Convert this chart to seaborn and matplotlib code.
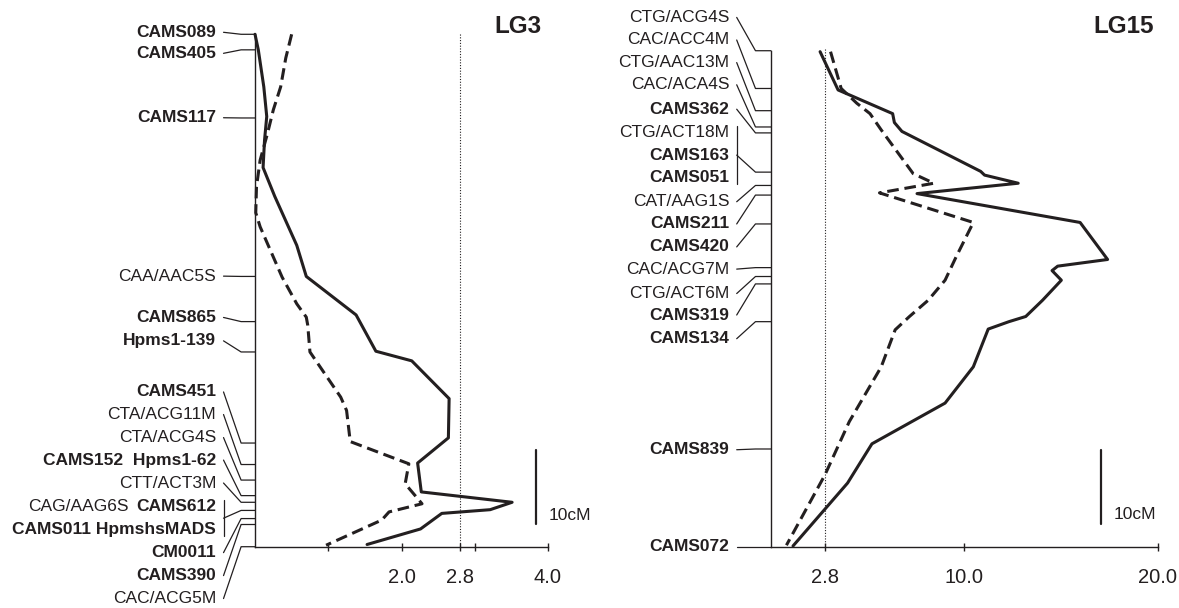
import numpy as np
import pandas as pd
import seaborn as sns
import matplotlib
matplotlib.use("Agg")
from matplotlib import pyplot as plt

# ---- LG3 ----
lg3_names = ["CAMS089", "CAMS405", "CAMS117", "CAA/AAC5S", "CAMS865", "Hpms1-139",
             "CAMS451", "CTA/ACG11M", "CTA/ACG4S", "CAMS152  Hpms1-62", "CTT/ACT3M",
             "CAG/AAG6S CAMS612", "CAMS011 HpmshsMADS", "CM0011", "CAMS390", "CAC/ACG5M"]
lg3_pos = [0.0, 2.1, 11.3, 32.7, 38.8, 42.9, 55.2, 58.1, 60.2, 62.3, 63.2,
           64.3, 64.3, 65.4, 66.2, 69.2]
lg3_solid_lod = [0, 0.045, 0.12, 0.16, 0.13, 0.11, 0.27, 0.57, 0.70, 1.38, 1.65, 2.14,
                 2.65, 2.64, 2.22, 2.27, 3.51, 3.21, 2.55, 2.26, 1.53]
lg3_solid_cm = [0, 2.1, 7.1, 11.1, 14.3, 18.0, 21.9, 28.5, 32.7, 37.9, 42.8, 44.1,
                49.2, 54.5, 57.9, 61.8, 63.2, 64.2, 64.7, 66.8, 68.9]
lg3_dash_lod = [0.50, 0.42, 0.35, 0.25, 0.17, 0.07, 0.02, 0.01, 0.07, 0.37, 0.57, 0.70,
                0.72, 0.75, 1.17, 1.25, 1.30, 2.10, 2.05, 2.28, 1.83, 1.73, 0.97]
lg3_dash_cm = [0, 3.2, 7.1, 10.2, 13.4, 17.0, 20.6, 24.1, 26.0, 32.8, 36.4, 38.2,
               39.3, 42.9, 49.0, 50.8, 55.0, 58.0, 60.7, 63.4, 64.5, 65.6, 69.0]
lg3_ticks = [1, 2, 2.8, 3, 4]
lg3_ticklabels = ["", "2.0", "2.8", "", "4.0"]

# ---- LG15 ----
lg15_names = ["CTG/ACG4S", "CAC/ACC4M", "CTG/AAC13M", "CAC/ACA4S", "CAMS362",
              "CTG/ACT18M", "CAMS163", "CAMS051", "CAT/AAG1S", "CAMS211", "CAMS420",
              "CAC/ACG7M", "CTG/ACT6M", "CAMS319", "CAMS134", "CAMS839", "CAMS072"]
lg15_pos = [0.0, 5.1, 8.1, 10.3, 11.1, 16.4, 16.4, 16.4, 18.2, 19.5, 23.4,
            29.3, 30.5, 31.5, 36.6, 53.8, 67.0]
lg15_solid_lod = [2.54, 3.47, 6.29, 6.38, 6.77, 10.84, 11.04, 12.78, 7.55, 15.98, 17.40,
                  14.82, 14.53, 15.01, 14.04, 13.17, 12.3, 11.23, 10.46, 9.0, 5.22, 3.96, 1.14]
lg15_solid_cm = [0.13, 5.3, 8.5, 9.7, 10.9, 16.3, 16.8, 17.9, 19.3, 23.2, 28.2,
                 29.1, 29.7, 31.0, 33.7, 35.9, 36.6, 37.6, 42.7, 47.6, 53.1, 58.4, 66.9]
lg15_dash_lod = [3.08, 3.63, 4.44, 5.12, 5.70, 7.35, 8.42, 5.61, 10.46, 9.58, 9.0,
                 8.13, 7.16, 6.42, 5.70, 4.05, 2.79, 0.80]
lg15_dash_cm = [0.13, 5.1, 7.1, 8.5, 10.7, 16.6, 17.9, 19.2, 23.2, 27.8, 31.0,
                33.7, 35.9, 37.7, 42.7, 50.1, 57.3, 66.8]
lg15_ticks = [2.8, 10, 20]
lg15_ticklabels = ["2.8", "10.0", "20.0"]

threshold = 2.8

sns.set_style("white")
plt.rcParams["font.family"] = ["Liberation Sans", "DejaVu Sans"]
INK = "#231f20"
FS = 12.5

fig = plt.figure(figsize=(11.79, 6.08), dpi=100)
ax1 = fig.add_axes([0.2163, 0.1008, 0.2485, 0.8428])
ax2 = fig.add_axes([0.6539, 0.1008, 0.3282, 0.8428])


def curves(ax, s_lod, s_cm, d_lod, d_cm):
    df = pd.concat([
        pd.DataFrame({"lod": s_lod, "cM": s_cm, "trait": "a"}),
        pd.DataFrame({"lod": d_lod, "cM": d_cm, "trait": "b"}),
    ])
    sns.lineplot(data=df, x="lod", y="cM", style="trait", sort=False, estimator=None,
                 dashes={"a": "", "b": (3.8, 1.9)}, color=INK, lw=2.2,
                 legend=False, ax=ax, clip_on=False)
    ax.set_xlabel("")
    ax.set_ylabel("")


def word_groups(name):
    if "/" not in name or " " not in name:
        return [(name, "/" not in name)]
    groups = []
    for w in name.split(" "):
        b = "/" not in w
        if groups and groups[-1][1] == b:
            groups[-1] = (groups[-1][0] + " " + w, b)
        else:
            groups.append((w, b))
    return groups


def marker_labels(ax, names, pos, label_y, brackets, text_x, start_x, knee_x):
    r = fig.canvas.get_renderer()
    inv = ax.transData.inverted()
    grouped = set()
    for a, b in brackets:
        grouped.update(range(a, b + 1))
    for i, name in enumerate(names):
        x = text_x
        for txt, bold in reversed(word_groups(name)):
            t = ax.text(x, label_y[i], txt, ha="right", va="center", fontsize=FS,
                        fontweight="bold" if bold else "normal", color=INK, clip_on=False)
            bb = t.get_window_extent(r)
            x = inv.transform((bb.x0 - 8, 0))[0]
        if i not in grouped:
            ax.plot([start_x, knee_x, 0], [label_y[i], pos[i], pos[i]], color=INK,
                    lw=0.9, clip_on=False)
    for a, b in brackets:
        ax.plot([start_x, start_x], [label_y[a] - 0.9, label_y[b] + 0.9], color=INK,
                lw=0.9, clip_on=False)
        mid = (label_y[a] + label_y[b]) / 2
        ax.plot([start_x, knee_x, 0], [mid, pos[a], pos[a]], color=INK, lw=0.9,
                clip_on=False)


# label text positions (layout)
lg3_label_y = [-0.27, 2.57, 11.27, 32.66, 38.24, 41.4, 48.3, 51.35, 54.46, 57.5,
               60.6, 63.8, 66.9, 70.0, 73.1, 76.2]
lg15_label_y = [-4.5, -1.45, 1.6, 4.6, 7.9, 11.1, 14.1, 17.1, 20.4, 23.4, 26.5,
                29.5, 32.8, 35.7, 38.9, 53.9, 67.0]

curves(ax1, lg3_solid_lod, lg3_solid_cm, lg3_dash_lod, lg3_dash_cm)
curves(ax2, lg15_solid_lod, lg15_solid_cm, lg15_dash_lod, lg15_dash_cm)

for ax, top, bottom, xmax in [(ax1, 0, 69.2, 4), (ax2, -2.22, 67.0, 20)]:
    ax.set_xlim(0, xmax)
    ax.set_ylim(bottom, top)
    sns.despine(ax=ax)
    for side in ["left", "bottom"]:
        ax.spines[side].set_linewidth(1.0)
        ax.spines[side].set_color(INK)
    ax.set_yticks([])
    ax.tick_params(axis="x", direction="inout", length=6, width=1, pad=12,
                   labelsize=14.5, colors=INK, bottom=True)

ax2.spines["left"].set_bounds(0, 67.0)
ax1.set_xticks(lg3_ticks, lg3_ticklabels)
ax2.set_xticks(lg15_ticks, lg15_ticklabels)

# threshold lines
ax1.plot([threshold, threshold], [0, 69.2], color=INK, lw=0.8, ls=(0, (1, 1.5)))
ax2.plot([threshold, threshold], [-0.3, 67.0], color=INK, lw=0.8, ls=(0, (1, 1.5)))

# 10 cM scale bars
ax1.plot([3.84, 3.84], [56.1, 66.1], color=INK, lw=1.6, clip_on=False)
ax1.text(4.01, 65.0, "10cM", fontsize=FS, color=INK, va="center", clip_on=False)
ax2.plot([17.05, 17.05], [53.9, 63.9], color=INK, lw=1.6, clip_on=False)
ax2.text(17.73, 62.7, "10cM", fontsize=FS, color=INK, va="center", clip_on=False)

marker_labels(ax1, lg3_names, lg3_pos, lg3_label_y, [(11, 12)], -0.53, -0.43, -0.19)
marker_labels(ax2, lg15_names, lg15_pos, lg15_label_y, [(5, 7)], -2.15, -1.77, -0.80)

fig.text(0.4394, 0.9556, "LG3", fontsize=17.5, fontweight="bold", color=INK,
         ha="center", va="center")
fig.text(0.953, 0.9556, "LG15", fontsize=17.5, fontweight="bold", color=INK,
         ha="center", va="center")

fig.savefig("out.png", dpi=100)
